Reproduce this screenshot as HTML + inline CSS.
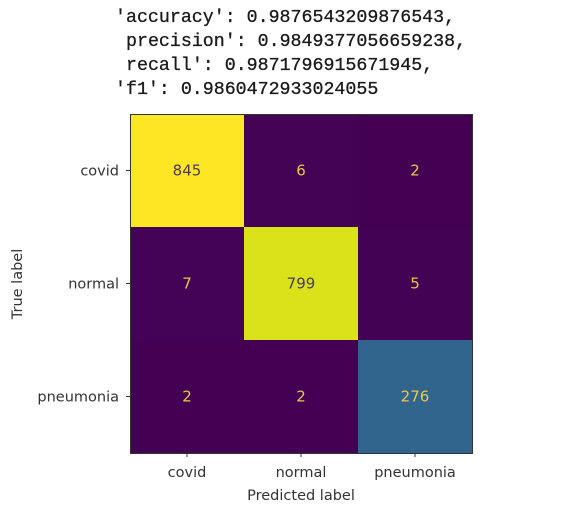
<!DOCTYPE html>
<html><head><meta charset="utf-8"><style>
body{margin:0;background:#fff;width:581px;height:513px;overflow:hidden}
.m{font-family:"Liberation Mono",monospace;font-size:18.3px;fill:#1a1a1a;stroke:#1a1a1a;stroke-width:0.3}
.t{font-family:"DejaVu Sans","Liberation Sans",sans-serif;font-size:14.5px;fill:#333}
.v{font-family:"DejaVu Sans","Liberation Sans",sans-serif;font-size:15px}
</style></head><body>
<svg id="chart" width="581" height="513" xmlns="http://www.w3.org/2000/svg">
<g>
<text class="m" x="115" y="22">'accuracy': 0.9876543209876543,</text>
<text class="m" x="126" y="46">precision': 0.9849377056659238,</text>
<text class="m" x="126" y="70">recall': 0.9871796915671945,</text>
<text class="m" x="115" y="94">'f1': 0.9860472933024055</text>
</g>
<g id="cells"></g>
<rect x="130.5" y="114.5" width="342" height="339" fill="none" stroke="#333" stroke-width="1"/>
<g id="ticks"></g>
<text class="t" x="301" y="500" text-anchor="middle">Predicted label</text>
<text class="t" transform="translate(22,284) rotate(-90)" text-anchor="middle">True label</text>
</svg>
<script>
const labels=["covid","normal","pneumonia"];
const row0=[845,6,2];
const row1=[7,799,5];
const row2=[2,2,276];
const matrix=[row0,row1,row2];
const X0=130,Y0=114,W=342,H=339;
const n=labels.length,cw=W/n,ch=H/n;
const xs=i=>X0+i*cw, ys=i=>Y0+i*ch;
const stops=[[0,[68,1,84]],[0.125,[71,45,123]],[0.25,[59,82,139]],[0.375,[44,114,142]],[0.5,[33,145,140]],[0.625,[40,174,128]],[0.75,[94,201,98]],[0.875,[170,220,50]],[0.95,[221,227,24]],[1,[253,231,37]]];
function vir(t){for(let i=1;i<stops.length;i++){if(t<=stops[i][0]){const a=stops[i-1],b=stops[i],f=(t-a[0])/(b[0]-a[0]);return 'rgb('+a[1].map((c,k)=>Math.round(c+(b[1][k]-c)*f)).join(',')+')';}}return 'rgb(253,231,37)';}
const ns='http://www.w3.org/2000/svg';
const cells=document.getElementById('cells'),ticks=document.getElementById('ticks');
let mx=0,mn=1e9;matrix.forEach(r=>r.forEach(v=>{mx=Math.max(mx,v);mn=Math.min(mn,v);}));
matrix.forEach((r,i)=>r.forEach((v,j)=>{
 const t=(v-mn)/(mx-mn);
 const rc=document.createElementNS(ns,'rect');
 rc.setAttribute('x',xs(j));rc.setAttribute('y',ys(i));rc.setAttribute('width',cw);rc.setAttribute('height',ch);rc.setAttribute('fill',vir(t));
 
 
 cells.appendChild(rc);
 const tx=document.createElementNS(ns,'text');
 tx.setAttribute('class','v');tx.setAttribute('x',xs(j)+cw/2);tx.setAttribute('y',ys(i)+ch/2+5);tx.setAttribute('text-anchor','middle');
 tx.setAttribute('fill',t>0.6?'#4a3a5e':'#e8c84a');tx.textContent=v;
 
 
 cells.appendChild(tx);
}));
labels.forEach((l,i)=>{
 const cx=xs(i)+cw/2,cy=ys(i)+ch/2;
 const a=document.createElementNS(ns,'line');a.setAttribute('x1',cx);a.setAttribute('x2',cx);a.setAttribute('y1',Y0+H);a.setAttribute('y2',Y0+H+4);a.setAttribute('stroke','#333');
 
 
 ticks.appendChild(a);
 const b=document.createElementNS(ns,'text');b.setAttribute('class','t');b.setAttribute('x',cx);b.setAttribute('y',Y0+H+24);b.setAttribute('text-anchor','middle');b.textContent=l;
 
 
 ticks.appendChild(b);
 const c=document.createElementNS(ns,'line');c.setAttribute('x1',X0-4);c.setAttribute('x2',X0);c.setAttribute('y1',cy);c.setAttribute('y2',cy);c.setAttribute('stroke','#333');
 
 
 ticks.appendChild(c);
 const d=document.createElementNS(ns,'text');d.setAttribute('class','t');d.setAttribute('x',X0-11);d.setAttribute('y',cy+5);d.setAttribute('text-anchor','end');d.textContent=l;
 
 
 ticks.appendChild(d);
});
</script>
</body></html>
